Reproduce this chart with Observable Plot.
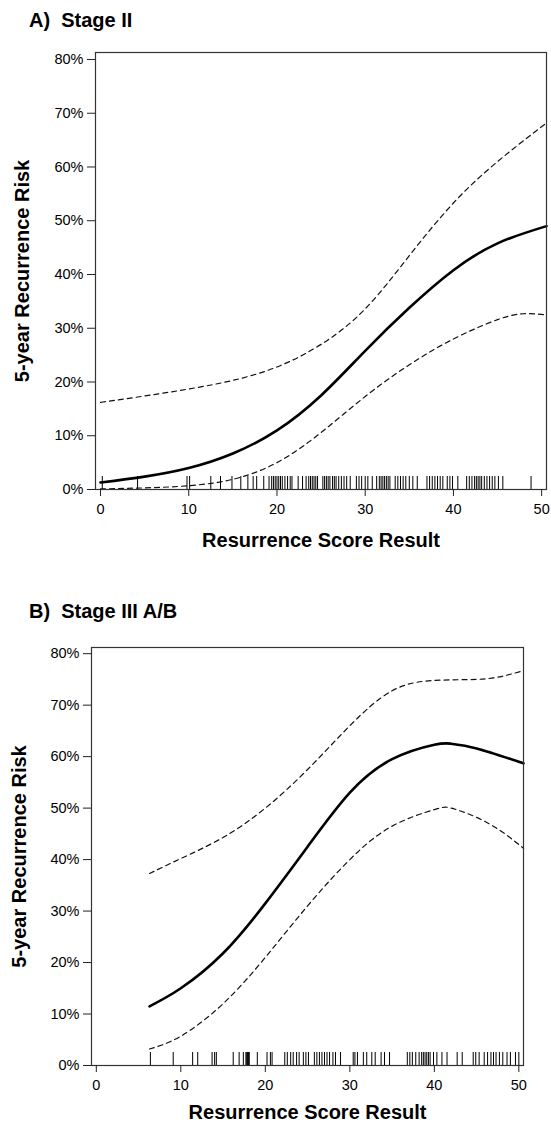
<!DOCTYPE html>
<html>
<head>
<meta charset="utf-8">
<script src="https://cdn.jsdelivr.net/npm/d3@7"></script>
<script src="https://cdn.jsdelivr.net/npm/@observablehq/plot@0.6"></script>
<style>
  html, body { margin: 0; padding: 0; background: #fff; width: 551px; height: 1126px; overflow: hidden; }
  body { position: relative; font-family: 'Liberation Sans', Arial, Helvetica, sans-serif; }
  .ptitle { position: absolute; left: 29px; font-weight: bold; font-size: 20px; white-space: pre; line-height: 1; color: #000; }
  .panel { position: absolute; left: 0; }
</style>
</head>
<body>
<div class="ptitle" id="tA" style="top:10px;">A)  Stage II</div>
<div class="panel" id="pA" style="top:0px;"></div>
<div class="ptitle" id="tB" style="top:601px;">B)  Stage III A/B</div>
<div class="panel" id="pB" style="top:580px;"></div>
<script>
// ---- tick labels ----
const xTicks = [0, 10, 20, 30, 40, 50];
const yTicks = [0, 10, 20, 30, 40, 50, 60, 70, 80];
const xTitle = "Resurrence Score Result";
const yTitle = "5-year Recurrence Risk";

// ---- Panel A: Stage II ----
const aX      = [0, 5, 10, 15, 20, 25, 30, 35, 40, 45, 50.55];
const aRisk   = [1.3, 2.4, 4.0, 6.7, 11.0, 17.5, 25.8, 33.8, 40.8, 45.8, 49.0];
const aUpperX = [0, 5, 10, 15, 20, 25, 30, 35, 40, 45, 50.55];
const aUpper  = [16.2, 17.4, 18.7, 20.3, 22.8, 27.0, 33.6, 43.5, 53.3, 61.0, 68.2];
const aLowerX = [0, 5, 10, 15, 20, 25, 30, 35, 40, 45, 48, 50.55];
const aLower  = [0.1, 0.3, 0.7, 1.9, 5.0, 10.6, 17.3, 23.2, 28.0, 31.6, 32.7, 32.5];
const aRug = [0.2, 4.2, 9.8, 10.1, 12.5, 13.6, 14.9, 15.9, 16.7, 17.3, 17.7, 18.5, 19.1, 19.4, 19.6, 19.8, 20.0,
  20.2, 20.4, 20.6, 20.9, 21.2, 21.5, 21.7, 22.4, 22.9, 23.3, 23.6, 23.8, 24.0, 24.2, 24.4, 24.6, 25.2, 25.4,
  25.6, 25.8, 26.0, 26.3, 26.5, 26.7, 27.0, 27.3, 27.6, 27.9, 28.3, 29.0, 29.3, 29.6, 30.0, 30.3, 30.8, 31.3,
  31.6, 31.8, 32.0, 32.2, 32.4, 32.6, 32.8, 33.4, 33.7, 34.0, 34.3, 34.6, 35.0, 35.4, 35.9, 37.0, 37.3, 37.6,
  37.9, 38.2, 38.5, 38.8, 39.3, 39.6, 39.9, 40.5, 41.5, 41.8, 42.1, 42.4, 42.6, 42.8, 43.0, 43.2, 43.5, 43.8,
  44.1, 44.4, 44.7, 45.1, 45.6, 48.8];

// ---- Panel B: Stage III A/B ----
const bX      = [6.3, 10, 15, 20, 25, 30, 35, 40, 42, 45, 50.55];
const bRisk   = [11.5, 15.0, 21.8, 31.5, 42.5, 53.0, 59.5, 62.3, 62.5, 61.6, 58.7];
const bUpperX = [6.3, 10, 15, 20, 25, 30, 35, 40, 45, 48, 50.55];
const bUpper  = [37.3, 40.2, 44.3, 50.0, 57.5, 66.0, 72.8, 74.8, 75.0, 75.6, 76.7];
const bLowerX = [6.3, 10, 15, 20, 25, 30, 35, 40, 42, 45, 48, 50.55];
const bLower  = [3.2, 5.7, 12.0, 21.0, 31.0, 40.0, 46.5, 49.7, 50.0, 48.2, 45.4, 42.2];
const bRug = [6.4, 9.1, 11.4, 12.0, 13.7, 14.0, 14.2, 16.2, 16.9, 17.4, 17.7, 17.8, 17.9, 18.0, 18.1, 19.05,
  20.2, 20.6, 20.8, 22.3, 22.6, 23.0, 23.3, 23.7, 24.0, 24.5, 24.8, 25.1, 25.8, 26.1, 26.4, 26.7, 27.0, 27.3,
  27.6, 28.0, 28.3, 28.9, 30.4, 30.6, 30.9, 31.6, 32.0, 32.6, 33.0, 33.7, 34.1, 34.7, 36.8, 37.1, 37.4, 37.8,
  38.2, 38.5, 38.7, 38.9, 39.1, 39.3, 39.5, 39.9, 40.3, 40.9, 41.5, 42.7, 43.3, 44.6, 44.9, 45.3, 45.9, 46.3,
  46.7, 47.0, 47.3, 47.7, 48.1, 48.6, 49.0, 49.6, 50.0];

const FONT = "'Liberation Sans', Arial, Helvetica, sans-serif";
const pts = (xs, ys) => xs.map((x, i) => ({x, y: ys[i]}));

function panel(o) {
  const plotH = o.height - o.mt - o.mb;
  return Plot.plot({
    width: 551,
    height: o.height,
    marginTop: o.mt,
    marginBottom: o.mb,
    marginLeft: o.ml,
    marginRight: o.mr,
    x: {domain: [-0.57, 50.55]},
    y: {domain: o.yDomain},
    style: {fontFamily: FONT, fontSize: "14px", color: "#000", background: "transparent", overflow: "visible"},
    marks: [
      Plot.ruleX(o.rug, {x: d => d, insetTop: plotH - 13, stroke: "#000", strokeWidth: 1}),
      Plot.line(pts(o.upperX, o.upper), {x: "x", y: "y", curve: "natural", stroke: "#111", strokeWidth: 1.2, strokeDasharray: "5,4"}),
      Plot.line(pts(o.lowerX, o.lower), {x: "x", y: "y", curve: "natural", stroke: "#111", strokeWidth: 1.2, strokeDasharray: "5,4"}),
      Plot.line(pts(o.riskX, o.risk), {x: "x", y: "y", curve: "natural", stroke: "#000", strokeWidth: 2.6}),
      Plot.frame({stroke: "#333", strokeWidth: 1.2}),
      Plot.axisX({ticks: xTicks, tickSize: 7, tickPadding: 7, label: null, tickFormat: d => String(d), fontSize: 14.5, stroke: "#222"}),
      Plot.axisY({ticks: yTicks, tickSize: 8, tickPadding: 4, label: null, tickFormat: d => d + "%", fontSize: 14.5, stroke: "#222"}),
      Plot.text([xTitle], {frameAnchor: "bottom", dy: o.xTitleDy, text: d => d, textAnchor: "middle", fontSize: 20, fontWeight: "bold", fill: "#000"}),
      Plot.text([yTitle], {frameAnchor: "left", dx: o.yTitleDx, rotate: -90, textAnchor: "middle", text: d => d, fontSize: 20, fontWeight: "bold", fill: "#000"})
    ]
  });
}

document.getElementById("pA").append(panel({
  height: 575, mt: 52, mb: 86, ml: 95, mr: 5, yDomain: [0, 81.3],
  rug: aRug, riskX: aX, risk: aRisk, upperX: aUpperX, upper: aUpper, lowerX: aLowerX, lower: aLower,
  xTitleDy: 57, yTitleDx: -73
}));
document.getElementById("pB").append(panel({
  height: 546, mt: 67, mb: 61, ml: 91, mr: 28, yDomain: [0, 81.2],
  rug: bRug, riskX: bX, risk: bRisk, upperX: bUpperX, upper: bUpper, lowerX: bLowerX, lower: bLower,
  xTitleDy: 53, yTitleDx: -72
}));
</script>
</body>
</html>
